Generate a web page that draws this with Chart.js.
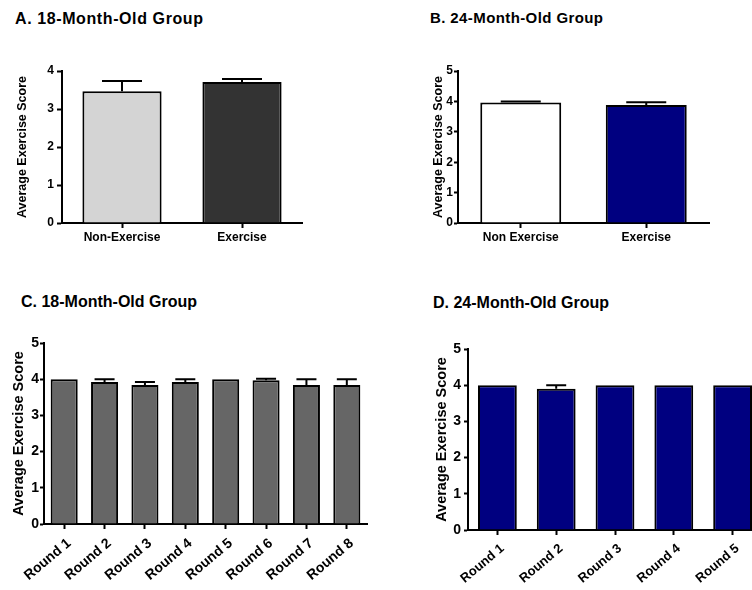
<!DOCTYPE html>
<html>
<head>
<meta charset="utf-8">
<script src="https://cdn.jsdelivr.net/npm/chart.js@4.4.1/dist/chart.umd.min.js"></script>
<style>
html, body { margin: 0; padding: 0; background: #fff; overflow: hidden; width: 752px; height: 590px; }
.box { position: absolute; }
.ttl { position: absolute; font-family: 'Liberation Sans', Arial, sans-serif; font-weight: bold; line-height: 1; white-space: nowrap; color: #000; }
</style>
</head>
<body>
<div class="ttl" style="left:15px;top:10.5px;font-size:16px;letter-spacing:0.6px">A. 18-Month-Old Group</div>
<div class="ttl" style="left:430px;top:9.6px;font-size:15px;letter-spacing:0.4px">B. 24-Month-Old Group</div>
<div class="ttl" style="left:21px;top:293.8px;font-size:16px">C. 18-Month-Old Group</div>
<div class="ttl" style="left:433px;top:294.5px;font-size:16px">D. 24-Month-Old Group</div>

<div class="box" style="left:15px;top:40px;width:297px;height:220px"><canvas id="chartA"></canvas></div>
<div class="box" style="left:431px;top:40px;width:288px;height:220px"><canvas id="chartB"></canvas></div>
<div class="box" style="left:10px;top:315px;width:367px;height:275px"><canvas id="chartC"></canvas></div>
<div class="box" style="left:433px;top:320px;width:339px;height:270px"><canvas id="chartD"></canvas></div>

<script>
// A. 18 month old, exercise vs non exercise
let groupsA = ['Non-Exercise', 'Exercise'];
let meansA = [3.47, 3.71];
let errA = [0.27, 0.08];

// B. 24 month old
let groupsB = ['Non Exercise', 'Exercise'];
let meansB = [3.96, 3.88];
let errB = [0.04, 0.09];

// C. 18 month old, per round
let roundsC = ['Round 1', 'Round 2', 'Round 3', 'Round 4', 'Round 5', 'Round 6', 'Round 7', 'Round 8'];
let meansC = [4.0, 3.92, 3.84, 3.92, 4.0, 3.97, 3.84, 3.84];
let errC = [0, 0.08, 0.08, 0.08, 0, 0.04, 0.16, 0.16];

// D. 24 month old, per round
let roundsD = ['Round 1', 'Round 2', 'Round 3', 'Round 4', 'Round 5'];
let meansD = [4.0, 3.9, 4.0, 4.0, 4.0];
let errD = [0, 0.1, 0, 0, 0];

let yTitle = 'Average Exercise Score';

Chart.defaults.font.family = "'Liberation Sans', Arial, sans-serif";
Chart.defaults.color = '#000';

// upper error bar with a cap, like the prism plots
const errorBars = {
    id: 'errorBars',
    afterDatasetsDraw(chart, args, opts) {
        let ctx = chart.ctx;
        let ds = chart.data.datasets[0];
        let meta = chart.getDatasetMeta(0);
        let yScale = chart.scales.y;
        ctx.save();
        ctx.strokeStyle = '#000';
        ctx.lineWidth = 2;
        meta.data.forEach((bar, i) => {
            let e = ds.errors[i];
            if (!e) return;
            let top = yScale.getPixelForValue(ds.data[i] + e);
            ctx.beginPath();
            ctx.moveTo(bar.x, bar.y);
            ctx.lineTo(bar.x, top);
            ctx.moveTo(bar.x - opts.cap / 2, top);
            ctx.lineTo(bar.x + opts.cap / 2, top);
            ctx.stroke();
        });
        ctx.restore();
    }
};

function barPanel(id, labels, values, errors, o) {
    return new Chart(document.getElementById(id), {
        type: 'bar',
        data: {
            labels: labels,
            datasets: [{
                data: values,
                errors: errors,
                backgroundColor: o.colors,
                borderColor: '#000',
                borderWidth: 2,
                borderSkipped: 'start',
                barPercentage: o.barPct,
                categoryPercentage: 1
            }]
        },
        options: {
            responsive: true,
            maintainAspectRatio: false,
            animation: false,
            layout: { padding: { top: o.padTop, right: 10, left: 0, bottom: 0 } },
            plugins: {
                legend: { display: false },
                tooltip: { enabled: false },
                errorBars: { cap: o.cap }
            },
            scales: {
                x: {
                    grid: { offset: false, drawOnChartArea: false, tickLength: 5, tickWidth: 2, tickColor: '#000' },
                    border: { color: '#000', width: 2 },
                    ticks: {
                        color: '#000',
                        autoSkip: false,
                        padding: o.xPad,
                        labelOffset: o.xShift,
                        maxRotation: o.rot,
                        minRotation: o.rot,
                        font: { size: o.xFont, weight: 'bold' }
                    },
                    afterFit: s => { s.height = o.xHeight; }
                },
                y: {
                    min: 0,
                    max: o.yMax,
                    grid: { drawOnChartArea: false, tickLength: o.yTick, tickWidth: 2, tickColor: '#000' },
                    border: { color: '#000', width: 2 },
                    ticks: {
                        stepSize: 1,
                        color: '#000',
                        padding: o.yPad,
                        font: { size: o.yFont, weight: 'bold' }
                    },
                    title: {
                        display: true,
                        text: yTitle,
                        color: '#000',
                        padding: 0,
                        font: { size: o.titleFont, weight: 'bold' }
                    },
                    afterFit: s => { s.width = o.yWidth; }
                }
            }
        },
        plugins: [errorBars]
    });
}

var chartA = barPanel('chartA', groupsA, meansA, errA, {
    colors: ['#d4d4d4', '#333333'], barPct: 0.66, cap: 40, yMax: 4,
    padTop: 31, xHeight: 37, yWidth: 47, rot: 0, xFont: 12, xPad: 2, xShift: 0,
    yFont: 12, yTick: 5, yPad: 3, titleFont: 12.5
});

var chartB = barPanel('chartB', groupsB, meansB, errB, {
    colors: ['#ffffff', '#000080'], barPct: 0.645, cap: 40, yMax: 5,
    padTop: 31, xHeight: 37, yWidth: 27, rot: 0, xFont: 12, xPad: 2, xShift: 0,
    yFont: 12, yTick: 4, yPad: 1, titleFont: 12.5
});

var chartC = barPanel('chartC', roundsC, meansC, errC, {
    colors: '#666666', barPct: 0.67, cap: 20, yMax: 5,
    padTop: 28, xHeight: 66, yWidth: 34, rot: 40, xFont: 14, xPad: 6, xShift: 5,
    yFont: 14, yTick: 4, yPad: 1, titleFont: 14.5
});

var chartD = barPanel('chartD', roundsD, meansD, errD, {
    colors: '#000080', barPct: 0.66, cap: 20, yMax: 5,
    padTop: 29, xHeight: 60, yWidth: 35, rot: 40, xFont: 13, xPad: 6, xShift: 5,
    yFont: 14, yTick: 4, yPad: 3, titleFont: 14.5
});
</script>
</body>
</html>
